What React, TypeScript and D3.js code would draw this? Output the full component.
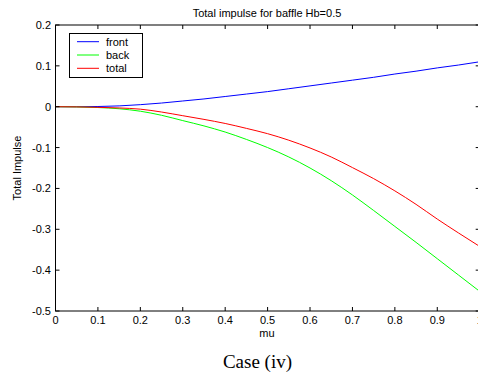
import React from "react";
import * as d3 from "d3";

const W = 478;
const H = 374;

const mu = [0, 0.05, 0.1, 0.15, 0.2, 0.25, 0.3, 0.35, 0.4, 0.45, 0.5, 0.55, 0.6, 0.65, 0.7, 0.75, 0.8, 0.85, 0.9, 0.95, 1.0];
const front = [0, 0, 0.0005, 0.002, 0.005, 0.009, 0.014, 0.019, 0.025, 0.031, 0.037, 0.044, 0.051, 0.058, 0.065, 0.072, 0.08, 0.087, 0.095, 0.102, 0.11];
const back = [0, -0.0005, -0.002, -0.005, -0.011, -0.021, -0.034, -0.047, -0.062, -0.08, -0.1, -0.123, -0.15, -0.181, -0.216, -0.254, -0.293, -0.332, -0.372, -0.412, -0.452];
const total = [0, -0.0005, -0.0015, -0.003, -0.006, -0.013, -0.022, -0.031, -0.041, -0.053, -0.066, -0.082, -0.101, -0.123, -0.149, -0.176, -0.206, -0.239, -0.275, -0.309, -0.342];

const xTicks = [0, 0.1, 0.2, 0.3, 0.4, 0.5, 0.6, 0.7, 0.8, 0.9, 1];
const xTickLabels = ["0", "0.1", "0.2", "0.3", "0.4", "0.5", "0.6", "0.7", "0.8", "0.9", "1"];
const yTicks = [0.2, 0.1, 0, -0.1, -0.2, -0.3, -0.4, -0.5];
const yTickLabels = ["0.2", "0.1", "0", "-0.1", "-0.2", "-0.3", "-0.4", "-0.5"];

const seriesNames = ["front", "back", "total"];
const seriesColors = ["#0000ff", "#00ff00", "#ff0000"];
const seriesValues = [front, back, total];

const title = "Total impulse for baffle Hb=0.5";
const xLabel = "mu";
const yLabel = "Total Impulse";
const caption = "Case (iv)";

export default function App() {
  const left = 55.5;
  const right = 479.7;
  const top = 25;
  const bottom = 311;
  const x = d3.scaleLinear().domain([0, 1]).range([left, right]);
  const y = d3.scaleLinear().domain([-0.5, 0.2]).range([bottom, top]);
  const line = d3
    .line<number>()
    .x((_, i) => x(mu[i]))
    .y((v) => y(v))
    .curve(d3.curveMonotoneX);
  const font = "'Liberation Sans', Arial, sans-serif";
  const tl = 4;
  return (
    <svg width={W} height={H} style={{ position: "absolute", left: 0, top: 0, background: "#fff" }}>
      <rect x={0} y={0} width={W} height={H} fill="#fff" />
      {seriesValues.map((vals, k) => (
        <path key={k} d={line(vals) || ""} fill="none" stroke={seriesColors[k]} strokeWidth={1} />
      ))}
      <rect x={left} y={top} width={right - left} height={bottom - top} fill="none" stroke="#000" strokeWidth={1} />
      {xTicks.map((t, i) => (
        <g key={"x" + i}>
          <line x1={x(t)} x2={x(t)} y1={bottom} y2={bottom - tl} stroke="#000" />
          <line x1={x(t)} x2={x(t)} y1={top} y2={top + tl} stroke="#000" />
          <text x={x(t)} y={324} textAnchor="middle" fontFamily={font} fontSize={11} fill="#000">
            {xTickLabels[i]}
          </text>
        </g>
      ))}
      {yTicks.map((t, i) => (
        <g key={"y" + i}>
          <line x1={left} x2={left + tl} y1={y(t)} y2={y(t)} stroke="#000" />
          <line x1={right} x2={right - tl} y1={y(t)} y2={y(t)} stroke="#000" />
          <text x={51} y={y(t) + 4} textAnchor="end" fontFamily={font} fontSize={11} fill="#000">
            {yTickLabels[i]}
          </text>
        </g>
      ))}
      <text x={267} y={17} textAnchor="middle" fontFamily={font} fontSize={11} fill="#000">
        {title}
      </text>
      <text x={267} y={337} textAnchor="middle" fontFamily={font} fontSize={11} fill="#000">
        {xLabel}
      </text>
      <text
        transform={`translate(21,168) rotate(-90)`}
        textAnchor="middle"
        fontFamily={font}
        fontSize={11}
        fill="#000"
      >
        {yLabel}
      </text>
      <g>
        <rect x={69.5} y={33.5} width={73} height={44} fill="#fff" stroke="#000" strokeWidth={1} />
        {seriesNames.map((n, i) => (
          <g key={n}>
            <line x1={77} x2={99} y1={41.7 + i * 13.3} y2={41.7 + i * 13.3} stroke={seriesColors[i]} strokeWidth={1} />
            <text x={106} y={45.7 + i * 13.3} fontFamily={font} fontSize={11} fill="#000">
              {n}
            </text>
          </g>
        ))}
      </g>
      <text x={257.5} y={368} textAnchor="middle" fontFamily="'Liberation Serif', 'Times New Roman', serif" fontSize={19} fill="#000">
        {caption}
      </text>
    </svg>
  );
}
